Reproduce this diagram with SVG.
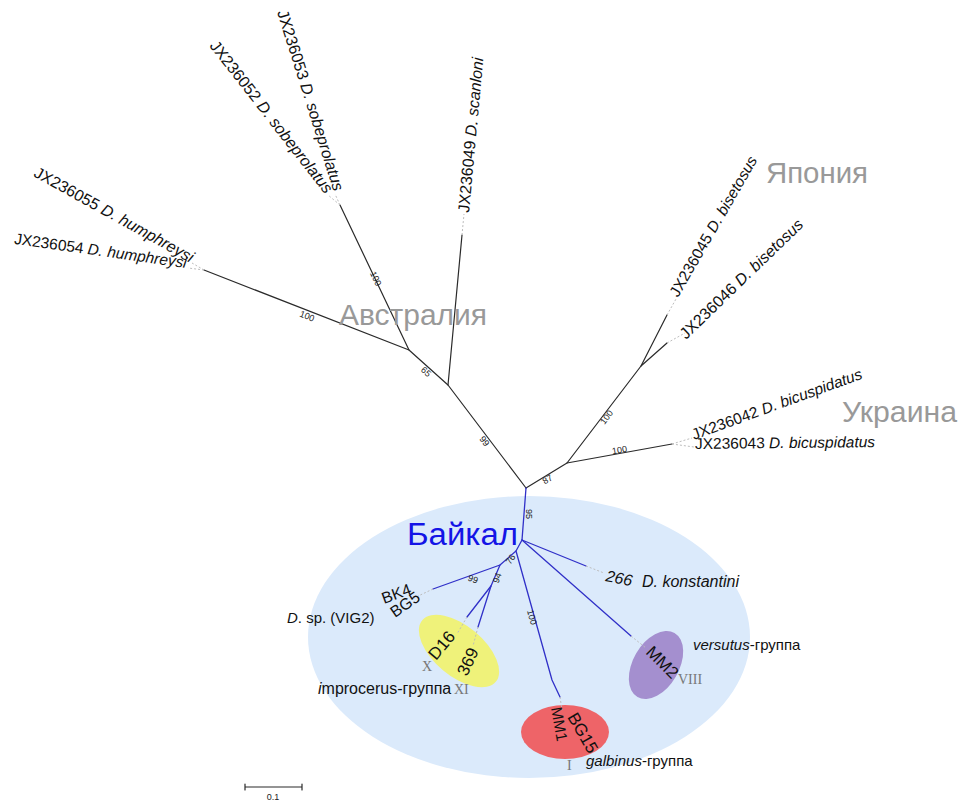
<svg xmlns="http://www.w3.org/2000/svg" width="959" height="802" viewBox="0 0 959 802">
<style>
.br{fill:none;stroke:#2a2a2a;stroke-width:1.2;stroke-linecap:round;stroke-linejoin:round}
.bb{fill:none;stroke:#3030c8;stroke-width:1.3;stroke-linecap:round;stroke-linejoin:round}
.dt{fill:none;stroke:#bdbdbd;stroke-width:1;stroke-dasharray:2 2}
.lab{font-family:"Liberation Sans",Arial,sans-serif;font-size:16px;fill:#111}
.big{font-size:17px}
.it{font-style:italic}
.bs{font-family:"Liberation Sans",Arial,sans-serif;font-size:9px;fill:#222;text-anchor:middle}
.reg{font-family:"Liberation Sans",Arial,sans-serif;font-size:30px;fill:#999}
.rom{font-family:"Liberation Serif","Times New Roman",serif;font-size:14px;fill:#777}
</style>
<rect width="959" height="802" fill="#ffffff"/>

<g id="baikal-region">
<ellipse cx="529" cy="637" rx="221" ry="141" fill="#dbeafb"/>
</g>
<g id="improcerus-group">
<ellipse cx="459" cy="651" rx="48" ry="25" transform="rotate(40 459 651)" fill="#eff27a"/>
</g>
<g id="versutus-group">
<ellipse cx="656" cy="665" rx="37" ry="23" transform="rotate(-60 656 665)" fill="#a48fcf"/>
</g>
<g id="galbinus-group">
<ellipse cx="565" cy="732" rx="44" ry="27" fill="#ee6468"/>
</g>

<g id="connectors">
<path class="br" d="M526,488 L448,385 L409,350 L204,270"/>
<path class="br" d="M409,350 L340,205"/>
<path class="br" d="M448,385 L462,235"/>
<path class="br" d="M526,488 L567,463 L641,366 L667,315"/>
<path class="br" d="M641,366 L667,343"/>
<path class="br" d="M567,463 L672,444"/>
<path class="bb" d="M526,488 L522,540 L586,566"/>
<path class="bb" d="M522,540 L631,636"/>
<path class="bb" d="M522,540 L516,551 L552,680 L560,697"/>
<path class="bb" d="M516,551 L500,565 L433,589"/>
<path class="bb" d="M500,565 L491,586 L467,617"/>
<path class="bb" d="M491,586 L478,627"/>
<path class="dt" d="M204,270 L192,263 M204,270 L188,268"/>
<path class="dt" d="M340,205 L335,194 M340,205 L328,195"/>
<path class="dt" d="M462,235 L464,214"/>
<path class="dt" d="M667,315 L676,299"/>
<path class="dt" d="M667,343 L685,333"/>
<path class="dt" d="M672,444 L692,438 M672,444 L694,447"/>
<path class="dt" d="M433,589 L414,598"/>
<path class="dt" d="M467,617 L457,634"/>
<path class="dt" d="M478,627 L473,646"/>
<path class="dt" d="M560,697 L562,710"/>
<path class="dt" d="M631,636 L646,648"/>
<path class="dt" d="M586,566 L604,573"/>
<path class="br" d="M245,787 L302,787 M245,784 L245,790 M302,784 L302,790" stroke="#555" stroke-width="1"/>
</g>

<g id="bootstrap">
<text class="bs" transform="translate(306,319) rotate(21)">100</text>
<text class="bs" transform="translate(373,280) rotate(64)">100</text>
<text class="bs" transform="translate(424,374) rotate(43)">65</text>
<text class="bs" transform="translate(482,443) rotate(53)">99</text>
<text class="bs" transform="translate(549,482) rotate(-31)">87</text>
<text class="bs" transform="translate(609,419) rotate(-53)">100</text>
<text class="bs" transform="translate(620,453) rotate(-9)">100</text>
<text class="bs" transform="translate(526,514) rotate(90)">95</text>
<text class="bs" transform="translate(513,561) rotate(-55)">76</text>
<text class="bs" transform="translate(500,579) rotate(-68)">94</text>
<text class="bs" transform="translate(472,582) rotate(20)">99</text>
<text class="bs" transform="translate(529,618) rotate(75)">100</text>
</g>

<g id="leaf-humphreysi-55"><text class="lab" text-anchor="end" transform="translate(190,263) rotate(29)">JX236055 <tspan class="it">D. humphreysi</tspan></text></g>
<g id="leaf-humphreysi-54"><text class="lab" text-anchor="end" style="font-size:15.5px" transform="translate(186,268) rotate(8)">JX236054 <tspan class="it">D. humphreysi</tspan></text></g>
<g id="leaf-sobeprolatus-53"><text class="lab" transform="translate(277,12) rotate(72.5)">JX236053 <tspan class="it">D. sobeprolatus</tspan></text></g>
<g id="leaf-sobeprolatus-52"><text class="lab" transform="translate(209,46) rotate(52)">JX236052 <tspan class="it">D. sobeprolatus</tspan></text></g>
<g id="leaf-scanloni"><text class="lab" transform="translate(469,213) rotate(-84.7)">JX236049 <tspan class="it">D. scanloni</tspan></text></g>
<g id="leaf-bisetosus-45"><text class="lab" style="font-size:15.5px" transform="translate(678,298) rotate(-60)">JX236045 <tspan class="it">D. bisetosus</tspan></text></g>
<g id="leaf-bisetosus-46"><text class="lab" transform="translate(686,340) rotate(-44)">JX236046 <tspan class="it">D. bisetosus</tspan></text></g>
<g id="leaf-bicuspidatus-42"><text class="lab" style="font-size:15.5px" transform="translate(694,440) rotate(-20)">JX236042 <tspan class="it">D. bicuspidatus</tspan></text></g>
<g id="leaf-bicuspidatus-43"><text class="lab" style="font-size:15.5px" transform="translate(695,449) rotate(-0.6)">JX236043 <tspan class="it">D. bicuspidatus</tspan></text></g>

<g id="region-labels">
<text class="reg" x="339" y="325" textLength="148" lengthAdjust="spacingAndGlyphs">Австралия</text>
<text class="reg" x="766" y="183" textLength="102" lengthAdjust="spacingAndGlyphs">Япония</text>
<text class="reg" x="842" y="422" textLength="115" lengthAdjust="spacingAndGlyphs">Украина</text>
<text x="407" y="545" font-family="'Liberation Sans',Arial,sans-serif" font-size="31" fill="#1414e6" textLength="111" lengthAdjust="spacingAndGlyphs">Байкал</text>
</g>

<g id="leaf-bk4"><text class="lab" transform="translate(384,604) rotate(-20)">BK4</text></g>
<g id="leaf-bg5"><text class="lab" transform="translate(395,618) rotate(-35)">BG5</text></g>
<g id="label-vig2"><text class="lab" style="font-size:15px" x="287" y="623"><tspan class="it">D</tspan>. sp. (VIG2)</text></g>
<g id="leaf-d16"><text class="lab big" transform="translate(436,661) rotate(-50)">D16</text></g>
<g id="leaf-369"><text class="lab big" transform="translate(467,677) rotate(-65)">369</text></g>
<g id="roman-x"><text class="rom" x="422" y="671">X</text></g>
<g id="label-improcerus"><text class="lab" x="318" y="694"><tspan class="it">i</tspan>mprocerus-группа</text></g>
<g id="roman-xi"><text class="rom" x="454" y="694">XI</text></g>
<g id="leaf-266"><text class="lab it" transform="translate(605,581) rotate(11)">266</text></g>
<g id="label-konstantini"><text class="lab it" x="642" y="587">D. konstantini</text></g>
<g id="leaf-mm2"><text class="lab big" fill="#1c1433" transform="translate(645,653) rotate(45)">MM2</text></g>
<g id="roman-viii"><text class="rom" x="678" y="684">VIII</text></g>
<g id="label-versutus"><text class="lab" style="font-size:15px" x="693" y="650"><tspan class="it">versutus</tspan>-группа</text></g>
<g id="leaf-bg15"><text class="lab big" transform="translate(567,717) rotate(60)">BG15</text></g>
<g id="leaf-mm1"><text class="lab" style="font-size:15.5px" transform="translate(551,708) rotate(80)">MM1</text></g>
<g id="roman-i"><text class="rom" x="567" y="770">I</text></g>
<g id="label-galbinus"><text class="lab" style="font-size:15px" x="586" y="766"><tspan class="it">galbinus</tspan>-группа</text></g>
<g id="scale-label"><text class="bs" x="273" y="800">0.1</text></g>
</svg>
